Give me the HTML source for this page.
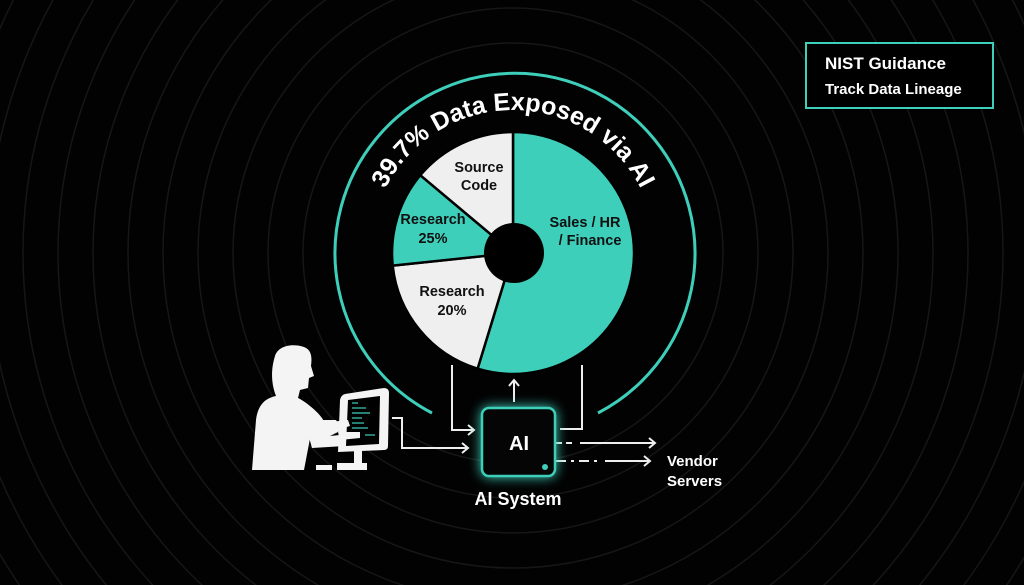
<!DOCTYPE html>
<html><head><style>
html,body{margin:0;padding:0;background:#000;overflow:hidden;width:1024px;height:585px;}
svg{display:block;font-family:"Liberation Sans",sans-serif;}
</style></head><body>
<svg width="1024" height="585" viewBox="0 0 1024 585">
<rect width="1024" height="585" fill="#020202"/>
<g fill="none" stroke="#161616" stroke-width="1.5">
<circle cx="513" cy="253" r="210"/><circle cx="513" cy="253" r="245"/><circle cx="513" cy="253" r="280"/>
<circle cx="513" cy="253" r="315"/><circle cx="513" cy="253" r="350"/><circle cx="513" cy="253" r="385"/>
<circle cx="513" cy="253" r="420"/><circle cx="513" cy="253" r="455"/><circle cx="513" cy="253" r="490"/>
<circle cx="513" cy="253" r="525"/><circle cx="513" cy="253" r="560"/><circle cx="513" cy="253" r="595"/>
<circle cx="513" cy="253" r="630"/><circle cx="513" cy="253" r="665"/>
</g>
<path d="M432 413 A180 180 0 1 1 598 413" fill="none" stroke="#3ecfbb" stroke-width="3"/>
<defs><path id="tp" d="M370 253 A143 143 0 0 1 656 253" /></defs>
<text font-size="25" font-weight="bold" fill="#fff"><textPath href="#tp" startOffset="50%" text-anchor="middle">39.7% Data Exposed via AI</textPath></text>
<g stroke="#000" stroke-width="2.5">
<path d="M513 253 L513 132 A121 121 0 1 1 477.6 368.7 Z" fill="#3ecfbb"/>
<path d="M513 253 L477.6 368.7 A121 121 0 0 1 392.7 265.6 Z" fill="#efefef"/>
<path d="M513 253 L392.7 265.6 A121 121 0 0 1 420.3 175.2 Z" fill="#3ecfbb"/>
<path d="M513 253 L420.3 175.2 A121 121 0 0 1 513 132 Z" fill="#efefef"/>
</g>
<circle cx="514" cy="253" r="30" fill="#000"/>
<g font-size="14.5" font-weight="bold" fill="#111" text-anchor="middle">
<text x="479" y="172">Source</text><text x="479" y="190">Code</text>
<text x="433" y="224">Research</text><text x="433" y="243">25%</text>
<text x="452" y="296">Research</text><text x="452" y="315">20%</text>
<text x="585" y="227">Sales / HR</text><text x="590" y="245">/ Finance</text>
</g>
<g stroke="#eee" stroke-width="2" fill="none">
<path d="M452 365 V430 H474"/><path d="M468 425 L474 430 L468 435"/>
<path d="M582 365 V429 H560"/>
<path d="M514 402 V381"/><path d="M509 386 L514 380 L519 386"/>
<path d="M392 418 H402 V448 H468"/><path d="M462 443 L468 448 L462 453"/>
<path d="M556 443 H575" stroke-dasharray="6 4"/><path d="M580 443 H655"/><path d="M649 438 L655 443 L649 448"/>
<path d="M556 461 H600" stroke-dasharray="10 5 3 5"/><path d="M605 461 H650"/><path d="M644 456 L650 461 L644 466"/>
</g>
<rect x="482" y="408" width="73" height="68" rx="7" fill="#050505" stroke="#3ecfbb" stroke-width="2.5" style="filter:drop-shadow(0 0 6px #3ecfbb)"/>
<circle cx="545" cy="467" r="3" fill="#3ecfbb"/>
<text x="519" y="450" font-size="20" font-weight="bold" fill="#fff" text-anchor="middle">AI</text>
<text x="518" y="505" font-size="18" font-weight="bold" fill="#fff" text-anchor="middle">AI System</text>
<text x="667" y="466" font-size="15" font-weight="bold" fill="#fff">Vendor</text>
<text x="667" y="486" font-size="15" font-weight="bold" fill="#fff">Servers</text>
<g fill="#f4f4f4">
<path d="M275 356 C278 346 292 343 304 347 C312 350 312 358 311 366 L314 376 L309 378 L308 388 L300 390 L298 398 C310 404 316 412 322 420 L336 420 L342 430 L330 436 L318 436 L312 428 L304 470 L252 470 L256 420 C258 404 266 398 276 396 C272 386 270 372 275 356 Z"/>
<path d="M298 398 C318 410 326 420 330 436 L350 434 L358 444 L345 446 L312 448 Z"/>
<path d="M345 394 L384 388 Q389 388 389 393 L388 446 Q388 450 384 450 L338 452 L340 400 Q341 395 345 394 Z"/>
<rect x="354" y="450" width="8" height="14"/>
<rect x="337" y="463" width="30" height="7"/>
<rect x="316" y="465" width="16" height="5"/>
</g>
<path d="M348 400 L380 396 L379 444 L346 446 Z" fill="#000"/>
<g stroke="#3ecfbb" stroke-width="1.2">
<line x1="352" y1="403" x2="358" y2="403"/><line x1="352" y1="408" x2="366" y2="408"/>
<line x1="352" y1="413" x2="370" y2="413"/><line x1="352" y1="418" x2="362" y2="418"/>
<line x1="352" y1="423" x2="364" y2="423"/><line x1="352" y1="428" x2="368" y2="428"/>
<line x1="365" y1="435" x2="375" y2="435"/>
</g>
<path d="M330 422 L348 420 L350 426 L336 430 Z M338 432 L360 432 L360 438 L340 440 Z" fill="#f4f4f4"/>
<rect x="806" y="43" width="187" height="65" fill="#000" stroke="#3ecfbb" stroke-width="2"/>
<text x="825" y="69" font-size="17" font-weight="bold" fill="#fff">NIST Guidance</text>
<text x="825" y="94" font-size="15" font-weight="bold" fill="#fff">Track Data Lineage</text>
</svg>
</body></html>
